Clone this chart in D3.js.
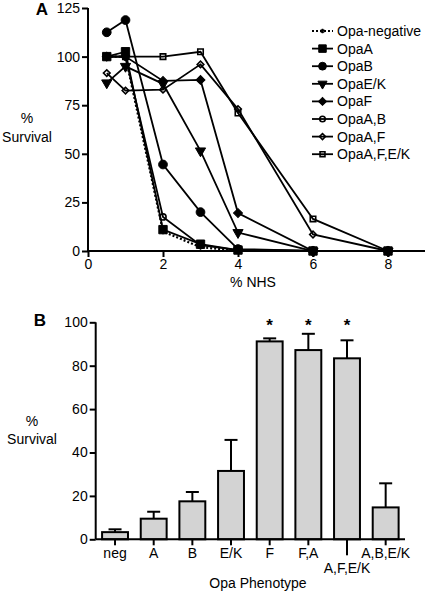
<!DOCTYPE html>
<html><head><meta charset="utf-8">
<script src="https://cdn.jsdelivr.net/npm/d3@7"></script>
<style>
body{margin:0;background:#fff;}
text{font-family:"Liberation Sans",Arial,Helvetica,sans-serif;fill:#000;}
</style></head>
<body><svg id="c" width="425" height="592"></svg>
<script>
// ---------- Panel A data ----------
const nhs = [0.5, 1, 2, 3, 4, 6, 8];
const seriesNames = ["Opa-negative","OpaA","OpaB","OpaE/K","OpaF","OpaA,B","OpaA,F","OpaA,F,E/K"];
const opaNeg   = [100, 100, 10, 2, 0, 0, 0];
const opaA     = [100, 102.5, 11, 3.5, 0.5, 0, 0];
const opaB     = [112.5, 118.8, 44.5, 20, 1, 0, 0];
const opaEK    = [86.5, 95, 86, 51.5, 9.5, 0, 0];
const opaF     = [100, 100, 87.5, 88, 19.5, 0, 0];
const opaAB    = [100, 100, 17.5, 3, 0.5, 0, 0];
const opaAF    = [91.5, 82.5, 83, 96, 73, 8.5, 0];
const opaAFEK  = [100, 100, 100, 102.5, 71, 16.5, 0];
const xTicksA = [0, 2, 4, 6, 8];
const yTicksA = [0, 25, 50, 75, 100, 125];

// ---------- Panel B data ----------
const phenotypes = ["neg","A","B","E/K","F","F,A","A,F,E/K","A,B,E/K"];
const survival   = [3.3, 9.5, 17.5, 31.5, 91.2, 87.2, 83.4, 14.7];
const errorTop   = [4.6, 12.7, 21.8, 45.8, 92.6, 94.7, 91.7, 25.8];
const significant= [false,false,false,false,true,true,true,false];
const yTicksB = [0, 20, 40, 60, 80, 100];

const svg = d3.select("#c");

// ================= Panel A =================
const xA = d3.scaleLinear().domain([0, 9]).range([88, 425.5]);
const yA = d3.scaleLinear().domain([0, 125]).range([251, 8]);

const gA = svg.append("g");
gA.append("g").attr("transform","translate(0,251)")
  .call(d3.axisBottom(xA).tickValues(xTicksA).tickSize(6).tickPadding(2).tickFormat(d3.format("d")))
  .call(g=>{g.select(".domain").attr("stroke-width",2).attr("d","M88,0H425.5");
           g.selectAll(".tick line").attr("stroke-width",2);
           g.selectAll("text").attr("font-size",14).attr("font-family","Liberation Sans, Arial");});
gA.append("g").attr("transform","translate(88,0)")
  .call(d3.axisLeft(yA).tickValues(yTicksA).tickSize(6).tickPadding(2))
  .call(g=>{g.select(".domain").attr("stroke-width",2).attr("d","M0,251V8");
           g.selectAll(".tick line").attr("stroke-width",2);
           g.selectAll("text").attr("font-size",14).attr("font-family","Liberation Sans, Arial");});

gA.append("text").attr("x",42).attr("y",15).attr("text-anchor","middle")
  .attr("font-size",17).attr("font-weight","bold").text("A");
gA.append("text").attr("x",27).attr("y",123).attr("text-anchor","middle").attr("font-size",14).text("%");
gA.append("text").attr("x",27).attr("y",142).attr("text-anchor","middle").attr("font-size",14).text("Survival");
gA.append("text").attr("x",253).attr("y",287).attr("text-anchor","middle").attr("font-size",14).text("% NHS");

const allSeries = [opaNeg, opaA, opaB, opaEK, opaF, opaAB, opaAF, opaAFEK];
const markers = [
  {type:d3.symbolAsterisk, size:18, fill:"none", rot:0, dash:"2,2"},
  {type:d3.symbolSquare,   size:70, fill:"#000", rot:0},
  {type:d3.symbolCircle,   size:60, fill:"#000", rot:0},
  {type:d3.symbolTriangle, size:45, fill:"#000", rot:180},
  {type:d3.symbolSquare,   size:40, fill:"#000", rot:45},
  {type:d3.symbolCircle,   size:30, fill:"none", rot:0},
  {type:d3.symbolSquare,   size:22, fill:"none", rot:45},
  {type:d3.symbolSquare,   size:30, fill:"none", rot:0}
];
const line = d3.line().x((d,i)=>xA(nhs[i])).y(d=>yA(d));

// draw in reverse so filled markers sit on top
for (let k = allSeries.length-1; k >= 0; k--) {
  const vals = allSeries[k], m = markers[k];
  gA.append("path").attr("d", line(vals)).attr("fill","none").attr("stroke","#000")
    .attr("stroke-width", k===0 ? 2.2 : 1.8)
    .attr("stroke-dasharray", m.dash || null);
  gA.selectAll(null).data(vals).enter().append("path")
    .attr("d", d3.symbol().type(m.type).size(m.size))
    .attr("transform",(d,i)=>`translate(${xA(nhs[i])},${yA(d)}) rotate(${m.rot})`)
    .attr("fill", m.fill).attr("stroke","#000").attr("stroke-width", m.fill==="none"?1.6:1);
}

// legend
const leg = gA.append("g");
seriesNames.forEach((name,k)=>{
  const y = 31 + k*17.6, m = markers[k];
  leg.append("line").attr("x1",312).attr("x2",333).attr("y1",y).attr("y2",y)
    .attr("stroke","#000").attr("stroke-width",k===0?2:1.8).attr("stroke-dasharray",m.dash||null);
  leg.append("path").attr("d", d3.symbol().type(m.type).size(m.size*0.8))
    .attr("transform",`translate(322.5,${y}) rotate(${m.rot})`)
    .attr("fill",m.fill).attr("stroke","#000").attr("stroke-width",m.fill==="none"?1.6:1);
  leg.append("text").attr("x",337).attr("y",y+5).attr("font-size",14).text(name);
});

// ================= Panel B =================
const xB = d3.scaleBand().domain(phenotypes).range([95.7, 405]).paddingInner(0.33).paddingOuter(0.165);
const yB = d3.scaleLinear().domain([0, 100]).range([539.3, 322.3]);
const gB = svg.append("g");

gB.append("text").attr("x",40).attr("y",326).attr("text-anchor","middle")
  .attr("font-size",17).attr("font-weight","bold").text("B");
gB.append("text").attr("x",32).attr("y",426).attr("text-anchor","middle").attr("font-size",14).text("%");
gB.append("text").attr("x",32).attr("y",444).attr("text-anchor","middle").attr("font-size",14).text("Survival");
gB.append("text").attr("x",258).attr("y",588).attr("text-anchor","middle").attr("font-size",14).text("Opa Phenotype");

// error bars
phenotypes.forEach((p,i)=>{
  const cx = xB(p) + xB.bandwidth()/2;
  gB.append("line").attr("x1",cx).attr("x2",cx).attr("y1",yB(survival[i])).attr("y2",yB(errorTop[i]))
    .attr("stroke","#000").attr("stroke-width",2);
  gB.append("line").attr("x1",cx-6.5).attr("x2",cx+6.5).attr("y1",yB(errorTop[i])).attr("y2",yB(errorTop[i]))
    .attr("stroke","#000").attr("stroke-width",2);
  if (significant[i]) gB.append("text").attr("x",cx).attr("y",331).attr("text-anchor","middle")
    .attr("font-size",17).attr("font-weight","bold").text("*");
});
gB.selectAll("rect.bar").data(phenotypes).enter().append("rect")
  .attr("x",d=>xB(d)).attr("width",xB.bandwidth())
  .attr("y",(d,i)=>yB(survival[i])).attr("height",(d,i)=>yB(0)-yB(survival[i]))
  .attr("fill","#d3d3d3").attr("stroke","#000").attr("stroke-width",2);

gB.append("g").attr("transform","translate(95.7,0)")
  .call(d3.axisLeft(yB).tickValues(yTicksB).tickSize(6).tickPadding(2))
  .call(g=>{g.select(".domain").attr("stroke-width",2).attr("d","M0,539.3V322.3");
           g.selectAll(".tick line").attr("stroke-width",2);
           g.selectAll("text").attr("font-size",14).attr("font-family","Liberation Sans, Arial");});
gB.append("g").attr("transform","translate(0,539.3)")
  .call(d3.axisBottom(xB).tickSize(6).tickPadding(3))
  .call(g=>{g.select(".domain").attr("stroke-width",2).attr("d","M95.7,0H405");
           g.selectAll(".tick line").attr("stroke-width",2)
             .attr("y2",d=>d==="A,F,E/K"?16:6);
           g.selectAll("text").attr("font-size",14).attr("font-family","Liberation Sans, Arial")
             .attr("y",d=>d==="A,F,E/K"?24:9);});
</script></body></html>
